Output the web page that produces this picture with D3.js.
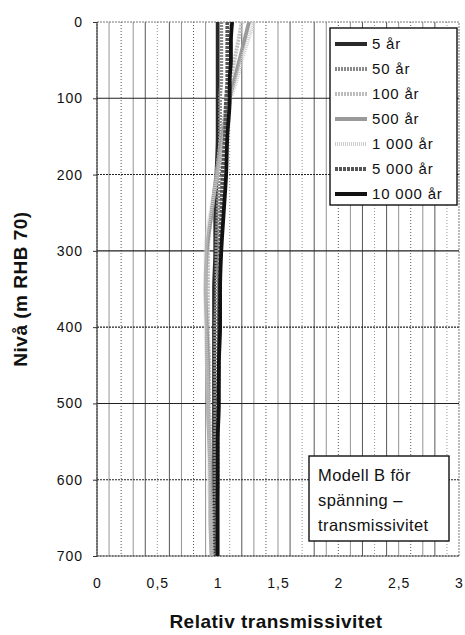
<!DOCTYPE html>
<html><head><meta charset="utf-8">
<script src="https://cdn.jsdelivr.net/npm/d3@7"></script>
<style>body{margin:0;background:#fff}svg{display:block}text{font-family:"Liberation Sans",Arial,sans-serif}</style>
</head><body><svg id="c" width="465" height="635"></svg>
<script>
const depths = [0, 25, 50, 75, 100, 150, 200, 250, 300, 350, 400, 450, 500, 550, 600, 650, 700];
const seriesNames = ["5 år", "50 år", "100 år", "500 år", "1 000 år", "5 000 år", "10 000 år"];
const s5     = [1.00,1.00,1.00,1.00,1.00,1.00,0.99,0.98,0.98,0.97,0.97,0.97,0.97,0.97,0.97,0.97,0.97];
const s50    = [1.03,1.03,1.03,1.03,1.02,1.02,1.01,1.00,0.99,0.99,0.98,0.98,0.98,0.98,0.98,0.98,0.98];
const s100   = [1.20,1.17,1.14,1.11,1.08,1.03,0.99,0.95,0.92,0.92,0.92,0.93,0.93,0.94,0.94,0.95,0.95];
const s500   = [1.26,1.22,1.18,1.14,1.10,1.04,0.99,0.95,0.91,0.90,0.91,0.92,0.92,0.93,0.94,0.94,0.95];
const s1000  = [1.30,1.25,1.20,1.16,1.11,1.05,1.00,0.94,0.90,0.90,0.90,0.91,0.92,0.93,0.93,0.94,0.95];
const s5000  = [1.08,1.08,1.08,1.08,1.07,1.06,1.04,1.03,1.02,1.02,1.01,1.01,1.00,1.00,1.00,0.99,0.99];
const s10000 = [1.12,1.11,1.11,1.10,1.10,1.08,1.07,1.05,1.03,1.02,1.02,1.01,1.01,1.00,1.00,1.00,1.00];
const seriesValues = [s5, s50, s100, s500, s1000, s5000, s10000];
const xTicks = [0, 0.5, 1, 1.5, 2, 2.5, 3];
const xTickLabels = ["0", "0,5", "1", "1,5", "2", "2,5", "3"];
const yTicks = [0, 100, 200, 300, 400, 500, 600, 700];
const noteLines = ["Modell B för", "spänning –", "transmissivitet"];

const colors = ["#2a2a2a", "#8a8a8a", "#bdbdbd", "#9a9a9a", "#cccccc", "#555", "#111"];
const dashes = [null, "2,1", "2,1", null, "1,1", "3,1", null];

const svg = d3.select("#c");
const L = 97, R = 459, T = 22, B = 556;
const x = d3.scaleLinear().domain([0, 3]).range([L, R]);
const y = d3.scaleLinear().domain([0, 700]).range([T, B]);

// grid
const g = svg.append("g");
g.selectAll(".vg").data(d3.range(1, 30).map(i => i / 10)).join("line")
  .attr("x1", d => x(d)).attr("x2", d => x(d)).attr("y1", T).attr("y2", B)
  .attr("stroke", (d, i) => i % 2 ? "#444" : "#888").attr("stroke-width", 0.9)
  .attr("stroke-dasharray", (d, i) => i % 3 === 1 ? "1,2" : null);
g.selectAll(".hg").data([100, 200, 300, 400, 500, 600]).join("line")
  .attr("x1", L).attr("x2", R).attr("y1", d => y(d)).attr("y2", d => y(d))
  .attr("stroke", "#222").attr("stroke-width", 1.1)
  .attr("stroke-dasharray", (d, i) => i % 2 ? "2,1" : null);
svg.append("rect").attr("x", L).attr("y", T).attr("width", R - L).attr("height", B - T)
  .attr("fill", "none").attr("stroke", "#666").attr("stroke-width", 0.9).attr("stroke-dasharray", "2,1");
svg.append("line").attr("x1", L).attr("x2", L).attr("y1", T).attr("y2", B).attr("stroke", "#222").attr("stroke-width", 1);
svg.append("line").attr("x1", L).attr("x2", R).attr("y1", B).attr("y2", B).attr("stroke", "#333").attr("stroke-width", 1).attr("stroke-dasharray", "2,1");

// axes
const xAxis = d3.axisBottom(x).tickValues(xTicks).tickFormat((d, i) => xTickLabels[i]).tickSize(0).tickPadding(22);
const xa = svg.append("g").attr("transform", `translate(0,${B})`).call(xAxis);
xa.select(".domain").remove();
xa.selectAll("text").attr("font-size", 14).attr("letter-spacing", "1px").attr("fill", "#111").attr("font-family", "Liberation Sans, Arial");
const yAxis = d3.axisLeft(y).tickValues(yTicks).tickSize(4).tickPadding(10);
const ya = svg.append("g").attr("transform", `translate(${L},0)`).call(yAxis);
ya.select(".domain").remove();
ya.selectAll("line").attr("stroke", "#333");
ya.selectAll("text").attr("font-size", 14).attr("letter-spacing", "1px").attr("fill", "#111").attr("font-family", "Liberation Sans, Arial");

// lines
const line = d3.line().x(d => x(d[1])).y(d => y(d[0])).curve(d3.curveMonotoneY);
seriesValues.forEach((vals, i) => {
  svg.append("path").datum(depths.map((d, j) => [d, vals[j]]))
    .attr("d", line).attr("fill", "none").attr("stroke", colors[i])
    .attr("stroke-width", 3.8).attr("stroke-dasharray", dashes[i]);
});

// legend
const lg = svg.append("g");
lg.append("rect").attr("x", 330).attr("y", 28).attr("width", 127).attr("height", 177)
  .attr("fill", "#fff").attr("stroke", "#111").attr("stroke-width", 1.4);
seriesNames.forEach((n, i) => {
  const yy = 44 + i * 25;
  lg.append("line").attr("x1", 335).attr("x2", 367).attr("y1", yy).attr("y2", yy)
    .attr("stroke", colors[i]).attr("stroke-width", 4).attr("stroke-dasharray", dashes[i]);
  lg.append("text").attr("x", 372).attr("y", yy + 5).attr("font-size", 15).attr("letter-spacing", "0.8px").attr("fill", "#111").text(n);
});

// note box
const nb = svg.append("g");
nb.append("rect").attr("x", 309).attr("y", 456).attr("width", 140).attr("height", 85)
  .attr("fill", "#fff").attr("stroke", "#111").attr("stroke-width", 1.4);
noteLines.forEach((t, i) => {
  nb.append("text").attr("x", 318).attr("y", 481 + i * 25).attr("font-size", 16.5).attr("letter-spacing", "0.4px").attr("fill", "#111").text(t);
});

// titles
svg.append("text").attr("x", 276).attr("y", 628).attr("text-anchor", "middle")
  .attr("font-size", 19).attr("font-weight", "bold").attr("letter-spacing", "0.5px").attr("fill", "#111").text("Relativ transmissivitet");
svg.append("text").attr("transform", "translate(27,289) rotate(-90)").attr("text-anchor", "middle")
  .attr("font-size", 19).attr("font-weight", "bold").attr("letter-spacing", "0.5px").attr("fill", "#111").text("Nivå (m RHB 70)");
</script></body></html>
